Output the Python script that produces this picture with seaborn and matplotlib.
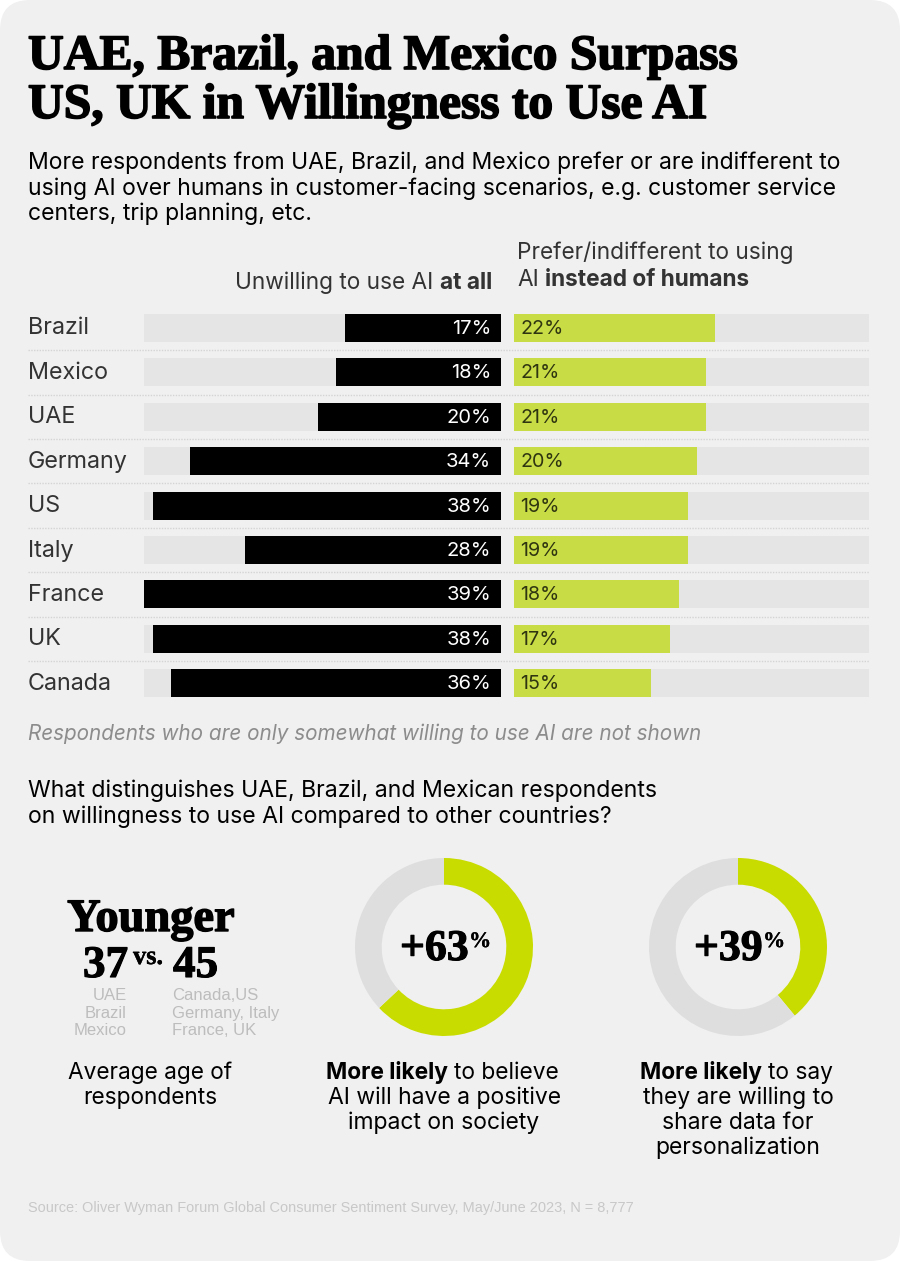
import matplotlib
matplotlib.use("Agg")
import matplotlib.pyplot as plt
import matplotlib.patheffects as pe
from matplotlib.patches import FancyBboxPatch
import seaborn as sns

# Data
countries = ["Brazil", "Mexico", "UAE", "Germany", "US", "Italy", "France", "UK", "Canada"]
unwilling = [17, 18, 20, 34, 38, 28, 39, 38, 36]
prefer = [22, 21, 21, 20, 19, 19, 18, 17, 15]
positive_impact = [63, 37]
share_data = [39, 61]

BG = "#f0f0f0"
TRACK = "#e5e5e5"
GREEN = "#c8dc45"
DONUT_GREEN = "#c8dc00"
DONUT_GREY = "#dedede"
DARK = "#333333"
SERIF = "Liberation Serif"
ARIAL = "Liberation Sans"

sns.set_style("white")
plt.rcParams["font.family"] = ["Inter", "DejaVu Sans"]

W, H = 900, 1261
fig = plt.figure(figsize=(W / 100, H / 100), dpi=100, facecolor="white")


def px_axes(x0, y0, x1, y1):
    return fig.add_axes([x0 / W, 1 - y1 / H, (x1 - x0) / W, (y1 - y0) / H])


# Full-page layer in pixel coordinates for card, separators and text
page = fig.add_axes([0, 0, 1, 1], zorder=0)
page.set_xlim(0, W)
page.set_ylim(H, 0)
page.axis("off")
page.add_patch(FancyBboxPatch((0, 0), W, H, boxstyle="round,pad=0,rounding_size=30",
                              fc=BG, ec="none", lw=0))


def txt(x, y, s, size=16, color="black", ha="left", weight="normal", **kw):
    return page.text(x, y, s, fontsize=size, color=color, ha=ha, va="baseline", weight=weight, **kw)


def heavy(t, w=1.0):
    t.set_path_effects([pe.withStroke(linewidth=w, foreground=t.get_color())])
    return t


# Title
heavy(txt(28, 69, "UAE, Brazil, and Mexico Surpass", 35.65, family=SERIF, weight="bold"), 1.2)
heavy(txt(28, 118, "US, UK in Willingness to Use AI", 35.65, family=SERIF, weight="bold"), 1.2)

# Subtitle
txt(28, 169, "More respondents from UAE, Brazil, and Mexico prefer or are indifferent to", 16.55)
txt(28, 195, "using AI over humans in customer-facing scenarios, e.g. customer service", 16.55)
txt(28, 220, "centers, trip planning, etc.", 16.55)

# Column headers
txt(433, 289, "Unwilling to use AI", 16.3, DARK, ha="right")
txt(440, 289, "at all", 16.3, DARK, weight="bold")
txt(517, 259, "Prefer/indifferent to using", 16.3, DARK)
txt(517, 286, "AI", 16.3, DARK)
txt(545, 286, "instead of humans", 16.3, DARK, weight="bold")

# Bars
TOP, BOTTOM = 305.8, 705.4
left = px_axes(144, TOP, 501, BOTTOM)
right = px_axes(514, TOP, 869, BOTTOM)
bar_kw = dict(saturation=1, width=0.63, orient="h", linewidth=0)
sns.barplot(x=[39] * 9, y=countries, color=TRACK, ax=left, **bar_kw)
sns.barplot(x=unwilling, y=countries, color="black", ax=left, **bar_kw)
sns.barplot(x=[38.8] * 9, y=countries, color=TRACK, ax=right, **bar_kw)
sns.barplot(x=prefer, y=countries, color=GREEN, ax=right, **bar_kw)
left.set_xlim(39, 0)
right.set_xlim(0, 38.8)
for ax in (left, right):
    ax.set_ylim(8.5, -0.5)
    ax.axis("off")
    ax.patch.set_alpha(0)

for i, name in enumerate(countries):
    left.annotate(f"{unwilling[i]}%", (0, i), xytext=(-10, -1), textcoords="offset pixels",
                  ha="right", va="center", color="white", fontsize=14.5)
    right.annotate(f"{prefer[i]}%", (0, i), xytext=(6, -1), textcoords="offset pixels",
                   ha="left", va="center", color="#2f3510", fontsize=14.2)
    cy = TOP + (BOTTOM - TOP) * (i + 0.5) / 9
    page.text(28, cy + 0.5, name, fontsize=16.8, color=DARK, va="center")
    if i < 8:
        page.plot([28, 869], [cy + 22.2] * 2, color="#d4d4d4", lw=1, ls=(0, (1, 1)))

# Note
txt(28, 740, "Respondents who are only somewhat willing to use AI are not shown", 14.9,
    "#8c8c8c", style="italic")

# Second question
txt(28, 797, "What distinguishes UAE, Brazil, and Mexican respondents", 16.6)
txt(28, 823, "on willingness to use AI compared to other countries?", 16.6)

# Younger block
heavy(txt(151, 931, "Younger", 33.4, ha="center", family=SERIF, weight="bold"), 1.0)
heavy(txt(83, 977, "37", 32.5, family=SERIF, weight="bold"), 0.8)
heavy(txt(133, 964, "vs.", 19, family=SERIF, weight="bold"), 0.3)
heavy(txt(173, 977, "45", 32.5, family=SERIF, weight="bold"), 0.8)
for y, a, b in [(1000, "UAE", "Canada,US"), (1018, "Brazil", "Germany, Italy"), (1035, "Mexico", "France, UK")]:
    txt(127, y, a, 12, "#bdbdbd", ha="right", family=ARIAL)
    txt(172, y, b, 12, "#bdbdbd", family=ARIAL)
txt(150, 1079, "Average age of", 16.3, ha="center")
txt(150, 1104, "respondents", 16.3, ha="center")


# Donuts
def donut(cx, values, label, bold_end, first_rest, lines):
    ax = px_axes(cx - 89, 858, cx + 89, 1036)
    ax.pie(values, colors=[DONUT_GREEN, DONUT_GREY], startangle=90, counterclock=False,
           radius=1, wedgeprops={"width": 0.3, "linewidth": 0})
    ax.set_xlim(-1, 1)
    ax.set_ylim(-1, 1)
    ax.patch.set_alpha(0)
    heavy(txt(cx - 44, 960, label, 31.5, family=SERIF, weight="bold"), 0.8)
    heavy(txt(cx + 25, 947, "%", 16, family=SERIF, weight="bold"), 0.2)
    txt(cx + bold_end, 1079, "More likely", 16.4, weight="bold", ha="right")
    txt(cx + bold_end + 6, 1079, first_rest, 16.4)
    for k, line in enumerate(lines):
        txt(cx, 1104 + 25 * k, line, 16.5, ha="center")


donut(444, positive_impact, "+63", 4, "to believe", ["AI will have a positive", "impact on society"])
donut(738, share_data, "+39", 24, "to say", ["they are willing to", "share data for", "personalization"])

# Source
txt(28, 1212, "Source: Oliver Wyman Forum Global Consumer Sentiment Survey, May/June 2023, N = 8,777",
    10.43, "#c8c8c8", family=ARIAL)

fig.savefig("out.png", dpi=100, facecolor="white")
